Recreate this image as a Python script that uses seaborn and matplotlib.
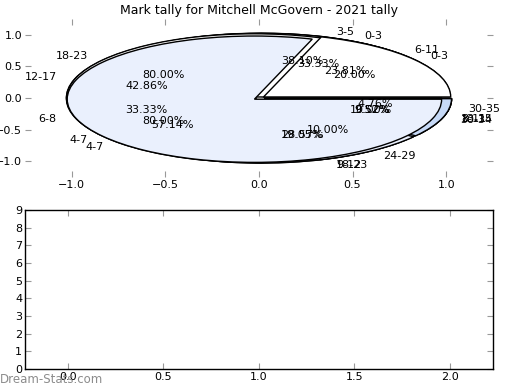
import numpy as np
import pandas as pd
import seaborn as sns
import matplotlib
matplotlib.use("Agg")
import matplotlib.pyplot as plt

title = "Mark tally for Mitchell McGovern - 2021 tally"

# Each pie: labels and tallies (drawn one on top of the other, in this order)
pie_a_labels = ["3-5", "6-8", "9-12", "13-15"]
pie_a_counts = [8, 7, 4, 2]

pie_c_labels = ["6-11", "12-17", "18-23", "30-35"]
pie_c_counts = [5, 9, 6, 1]

pie_b_labels = ["0-3", "4-7", "8-11"]
pie_b_counts = [7, 12, 2]

pie_e_labels = ["18-23", "24-29", "30-34"]
pie_e_counts = [8, 1, 1]

pie_d_labels = ["0-3", "4-7"]
pie_d_counts = [2, 8]

pies = [
    (pie_a_labels, pie_a_counts),
    (pie_c_labels, pie_c_counts),
    (pie_b_labels, pie_b_counts),
    (pie_e_labels, pie_e_counts),
    (pie_d_labels, pie_d_counts),
]

wedge_colors = ["#ffffff", "#eaf0fd", "#c6d9f7", "#a9c4ef"]

sns.set_theme(style="white", rc={
    "xtick.direction": "in",
    "ytick.direction": "in",
    "xtick.top": True,
    "ytick.right": True,
    "xtick.bottom": True,
    "ytick.left": True,
    "xtick.color": "0.6",
    "ytick.color": "0.6",
    "xtick.labelcolor": "black",
    "ytick.labelcolor": "black",
    "xtick.major.size": 4,
    "ytick.major.size": 4,
    "xtick.major.width": 0.8,
    "ytick.major.width": 0.8,
    "axes.edgecolor": "black",
    "axes.linewidth": 1.0,
    "text.color": "black",
    "axes.labelcolor": "black",
})
plt.rcParams["font.family"] = ["DejaVu Sans"]

fig = plt.figure(figsize=(5.2, 3.9), dpi=100)
ax1 = fig.add_axes([0.048, 0.546, 0.900, 0.405])
ax2 = fig.add_axes([0.048, 0.054, 0.900, 0.408])

for labels, counts in pies:
    ax1.pie(counts, labels=labels, colors=wedge_colors[:len(counts)],
            explode=[0.03] * len(counts), autopct="%1.2f%%", startangle=0,
            wedgeprops={"edgecolor": "black", "linewidth": 1.0},
            textprops={"fontsize": 8, "color": "black"})

ax1.set_aspect("auto")
ax1.set_xlim(-1.25, 1.25)
ax1.set_ylim(-1.25, 1.25)
ax1.set_xticks([-1.0, -0.5, 0.0, 0.5, 1.0])
ax1.set_yticks([-1.0, -0.5, 0.0, 0.5, 1.0])
ax1.tick_params(labelsize=8, pad=2)
ax1.set_title(title, fontsize=9, pad=4, color="black")

ax2.set_xlim(-0.225, 2.225)
ax2.set_ylim(0, 9)
ax2.set_xticks([0.0, 0.5, 1.0, 1.5, 2.0])
ax2.set_yticks(range(10))
ax2.tick_params(labelsize=8, pad=2)

fig.text(0.0, 0.01, "Dream-Stats.com", fontsize=8.5, color="0.55",
         ha="left", va="bottom")

fig.savefig("out.png", dpi=100)
plt.close(fig)
